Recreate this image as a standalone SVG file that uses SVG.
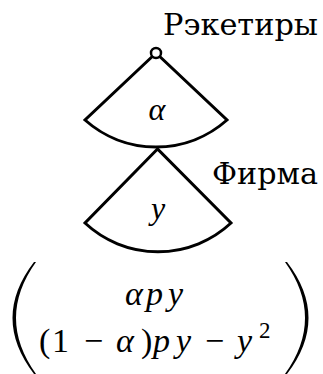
<svg xmlns="http://www.w3.org/2000/svg" width="323" height="374" viewBox="0 0 323 374">
<style>
.fan{fill:none;stroke:#000;stroke-width:3;stroke-linejoin:miter}
.lbl{font-family:"DejaVu Serif","Liberation Serif",serif;font-size:30px;fill:#000}
.m{font-family:"Liberation Serif","Times New Roman",serif;fill:#000}
.i{font-style:italic}
.paren{fill:#000;stroke:none}
</style>
<rect width="323" height="374" fill="#fff"/>
<g id="connectors">
<path class="fan" d="M156 53 L85 120 A107 107 0 0 0 227 120 Z"/>
<path class="fan" d="M157.5 149 L85 223 A107 107 0 0 0 231 223 Z"/>
</g>
<g id="node-racketeers">
<circle cx="156" cy="53" r="5" fill="#fff" stroke="#000" stroke-width="2.5"/>
<text class="lbl" x="163" y="35" textLength="155" lengthAdjust="spacingAndGlyphs">Рэкетиры</text>
<text class="m i" x="157" y="120" font-size="32" text-anchor="middle">α</text>
</g>
<g id="node-firm">
<text class="lbl" x="212" y="184" textLength="106" lengthAdjust="spacingAndGlyphs">Фирма</text>
<text class="m i" x="158" y="219" font-size="32" text-anchor="middle">y</text>
</g>
<g id="payoff">
<path class="paren" d="M34 262 Q-9 318 34 374 L36 374 Q-4 318 36 262 Z"/>
<path class="paren" d="M287 262 Q330 318 287 374 L285 374 Q325 318 285 262 Z"/>
<text class="m" font-size="34" y="305"><tspan class="i" x="125">α</tspan><tspan class="i" x="146">p</tspan><tspan class="i" x="168">y</tspan></text>
<text class="m" font-size="34" y="352"><tspan x="39">(</tspan><tspan x="52">1</tspan><tspan x="84">−</tspan><tspan class="i" x="116">α</tspan><tspan x="141">)</tspan><tspan class="i" x="153">p</tspan><tspan class="i" x="176">y</tspan><tspan x="205">−</tspan><tspan class="i" x="237">y</tspan><tspan x="259" y="338" font-size="23">2</tspan></text>
</g>
</svg>
